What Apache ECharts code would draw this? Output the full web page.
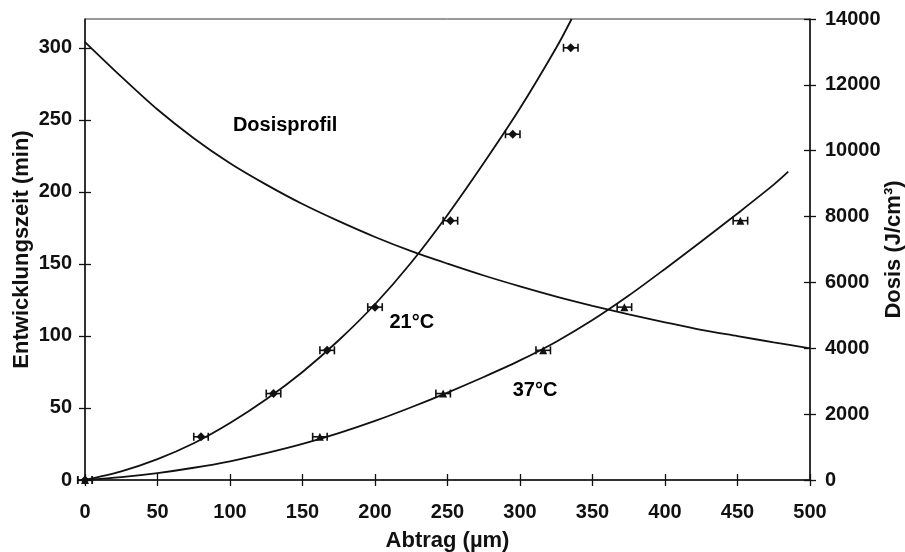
<!DOCTYPE html>
<html>
<head>
<meta charset="utf-8">
<script src="https://cdn.jsdelivr.net/npm/echarts@6/dist/echarts.min.js"></script>
<style>
  html, body { margin: 0; padding: 0; background: #fff; }
  #chart { width: 905px; height: 552px; }
</style>
</head>
<body>
<div id="chart"></div>
<script>
// Measured points: removal depth (µm) vs. development time (min)
const abtrag21 = [0, 80, 130, 167, 200, 252, 295, 335];
const zeit21   = [0, 30, 60, 90, 120, 180, 240, 300];
const fehler21 = [5, 5, 5, 5, 5, 5, 5, 5];

const abtrag37 = [0, 162, 247, 316, 372, 452];
const zeit37   = [0, 30, 60, 90, 120, 180];
const fehler37 = [5, 5, 5, 5, 5, 5];

// Fitted curves
const kurveX21 = [0, 25, 50, 75, 100, 125, 150, 175, 200, 225, 250, 275, 300, 325, 335.6];
const kurveY21 = [0, 6, 14.5, 25.5, 39.5, 56, 75, 97, 122, 151, 184, 220, 258, 300, 320];

const kurveX37 = [0, 25, 50, 75, 100, 125, 150, 175, 200, 225, 250, 275, 300, 325, 350, 375, 400, 425, 450, 475, 485];
const kurveY37 = [0, 2, 4.8, 8.5, 13, 18.6, 25, 32.5, 41, 50.5, 60.7, 71.5, 83, 96, 111, 128, 146.5, 165.5, 185, 205, 214];

// Dose profile (J/cm³) over depth
const dosisX = [0, 25, 50, 75, 100, 125, 150, 175, 200, 225, 250, 275, 300, 325, 350, 375, 400, 425, 450, 475, 500];
const dosisY = [13300, 12250, 11250, 10380, 9620, 8970, 8380, 7860, 7380, 6950, 6570, 6210, 5880, 5570, 5290, 5030, 4790, 4560, 4370, 4180, 4000];

// Axis ticks
const xTicks = [0, 50, 100, 150, 200, 250, 300, 350, 400, 450, 500];
const yTicksLeft = [0, 50, 100, 150, 200, 250, 300];
const yTicksRight = [0, 2000, 4000, 6000, 8000, 10000, 12000, 14000];

// Curve annotations
const notizText = ['Dosisprofil', '21°C', '37°C'];
const notizX = [102, 210, 295];
const notizY = [246, 109, 62];

const FONT = '"Liberation Sans", Arial, Helvetica, sans-serif';
const INK = '#111';

function pairs(xs, ys) { return xs.map((x, i) => [x, ys[i]]); }

function fehlerDaten(xs, ys, es) { return xs.map((x, i) => [x, ys[i], es[i]]); }

function fehlerBalken(params, api) {
  const x = api.value(0), y = api.value(1), e = api.value(2);
  const a = api.coord([x - e, y]);
  const b = api.coord([x + e, y]);
  const cap = 4;
  const style = { stroke: INK, lineWidth: 1.6 };
  return {
    type: 'group',
    children: [
      { type: 'line', shape: { x1: a[0], y1: a[1], x2: b[0], y2: b[1] }, style },
      { type: 'line', shape: { x1: a[0], y1: a[1] - cap, x2: a[0], y2: a[1] + cap }, style },
      { type: 'line', shape: { x1: b[0], y1: b[1] - cap, x2: b[0], y2: b[1] + cap }, style }
    ]
  };
}

const tickLabel = { fontFamily: FONT, fontWeight: 'bold', fontSize: 20, color: INK, formatter: v => String(v) };
const axisLine = { show: true, onZero: false, lineStyle: { color: INK, width: 1.5 } };
const titleStyle = { fontFamily: FONT, fontWeight: 'bold', fontSize: 22, color: INK };

const chart = echarts.init(document.getElementById('chart'), null, { renderer: 'canvas' });

chart.setOption({
  animation: false,
  backgroundColor: '#fff',
  grid: {
    left: 85, right: 95, top: 19, bottom: 72,
    containLabel: false, outerBoundsMode: 'none',
    show: true, borderColor: '#333', borderWidth: 1
  },
  xAxis: [
    {
      type: 'value', position: 'bottom', min: 0, max: 500, interval: 50,
      name: 'Abtrag (µm)', nameLocation: 'middle', nameGap: 50, nameMoveOverlap: false,
      nameTextStyle: titleStyle,
      axisLine,
      axisTick: { show: true, inside: false, length: 6, customValues: xTicks, lineStyle: { color: INK, width: 1.3 } },
      axisLabel: Object.assign({ margin: 22, customValues: xTicks }, tickLabel),
      splitLine: { show: false }
    },
    {
      type: 'value', position: 'bottom', min: 0, max: 500, interval: 50,
      axisLine: { show: false, onZero: false },
      axisTick: { show: true, inside: true, length: 6, customValues: xTicks, lineStyle: { color: INK, width: 1.3 } },
      axisLabel: { show: false },
      splitLine: { show: false }
    }
  ],
  yAxis: [
    {
      type: 'value', position: 'left', min: 0, max: 320,
      name: 'Entwicklungszeit (min)', nameLocation: 'middle', nameGap: 52, nameMoveOverlap: false,
      nameTextStyle: titleStyle,
      axisLine,
      axisTick: { show: true, inside: false, length: 6, customValues: yTicksLeft, lineStyle: { color: INK, width: 1.3 } },
      axisLabel: Object.assign({ margin: 13, customValues: yTicksLeft }, tickLabel),
      splitLine: { show: false }
    },
    {
      type: 'value', position: 'right', min: 0, max: 14000, interval: 2000,
      name: 'Dosis (J/cm³)', nameLocation: 'middle', nameGap: 73, nameMoveOverlap: false,
      nameTextStyle: titleStyle,
      axisLine,
      axisTick: { show: true, inside: false, length: 6, customValues: yTicksRight, lineStyle: { color: INK, width: 1.3 } },
      axisLabel: Object.assign({ margin: 15, customValues: yTicksRight }, tickLabel),
      splitLine: { show: false }
    },
    {
      type: 'value', position: 'left', min: 0, max: 320,
      axisLine: { show: false, onZero: false },
      axisTick: { show: true, inside: true, length: 6, customValues: yTicksLeft, lineStyle: { color: INK, width: 1.3 } },
      axisLabel: { show: false },
      splitLine: { show: false }
    },
    {
      type: 'value', position: 'right', min: 0, max: 14000, interval: 2000,
      axisLine: { show: false, onZero: false },
      axisTick: { show: true, inside: true, length: 6, customValues: yTicksRight, lineStyle: { color: INK, width: 1.3 } },
      axisLabel: { show: false },
      splitLine: { show: false }
    }
  ],
  series: [
    {
      name: 'Dosisprofil', type: 'line', xAxisIndex: 0, yAxisIndex: 1,
      data: pairs(dosisX, dosisY), smooth: 0.3, showSymbol: false,
      lineStyle: { color: INK, width: 1.8 }
    },
    {
      name: '21°C Kurve', type: 'line', xAxisIndex: 0, yAxisIndex: 0,
      data: pairs(kurveX21, kurveY21), smooth: 0.3, showSymbol: false,
      lineStyle: { color: INK, width: 1.8 }
    },
    {
      name: '37°C Kurve', type: 'line', xAxisIndex: 0, yAxisIndex: 0,
      data: pairs(kurveX37, kurveY37), smooth: 0.3, showSymbol: false,
      lineStyle: { color: INK, width: 1.8 }
    },
    {
      name: '21°C Fehler', type: 'custom', xAxisIndex: 0, yAxisIndex: 0,
      data: fehlerDaten(abtrag21, zeit21, fehler21), renderItem: fehlerBalken, z: 3
    },
    {
      name: '37°C Fehler', type: 'custom', xAxisIndex: 0, yAxisIndex: 0,
      data: fehlerDaten(abtrag37, zeit37, fehler37), renderItem: fehlerBalken, z: 3
    },
    {
      name: '21°C', type: 'scatter', xAxisIndex: 0, yAxisIndex: 0,
      data: pairs(abtrag21, zeit21), symbol: 'diamond', symbolSize: 9,
      itemStyle: { color: INK, opacity: 1 }, z: 4
    },
    {
      name: '37°C', type: 'scatter', xAxisIndex: 0, yAxisIndex: 0,
      data: pairs(abtrag37, zeit37), symbol: 'triangle', symbolSize: 8,
      itemStyle: { color: INK, opacity: 1 }, z: 4
    },
    {
      name: 'Beschriftung', type: 'scatter', xAxisIndex: 0, yAxisIndex: 0,
      data: notizX.map((x, i) => ({ value: [x, notizY[i]], name: notizText[i] })),
      symbolSize: 0, silent: true, itemStyle: { opacity: 1 },
      label: {
        show: true, position: 'right', distance: 0, formatter: p => p.name,
        fontFamily: FONT, fontWeight: 'bold', fontSize: 20, color: '#000'
      }
    }
  ]
});
</script>
</body>
</html>
